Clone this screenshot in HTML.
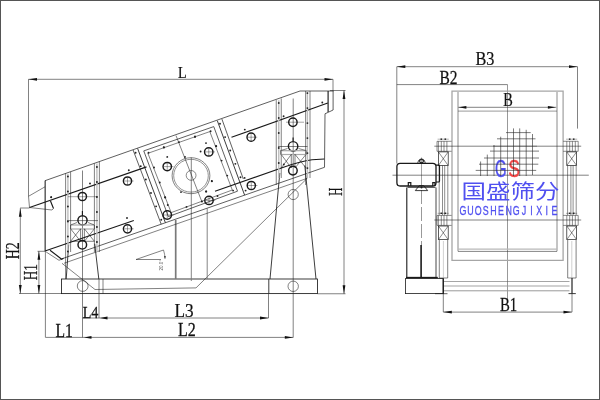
<!DOCTYPE html>
<html><head><meta charset="utf-8"><title>Vibrating screen dimensions</title>
<style>
html,body{margin:0;padding:0;background:#fff;}
#wrap{position:relative;width:600px;height:400px;overflow:hidden;background:#fff;box-sizing:border-box;}
#wrap svg{position:absolute;left:0;top:0;display:block;will-change:transform;}
#frame{position:absolute;left:0;top:0;width:598px;height:398px;border:1px solid #555;pointer-events:none;}
</style></head><body>
<div id="wrap">
<svg width="600" height="400" viewBox="0 0 600 400">
<line x1="28.5" y1="79.3" x2="333" y2="79.3" stroke="#1a1a1a" stroke-width="0.55"/>
<path d="M28.5 79.3 L37 77.9 L37 80.7 Z" fill="#111"/>
<path d="M333 79.3 L324.5 80.7 L324.5 77.9 Z" fill="#111"/>
<line x1="28.5" y1="79.3" x2="28.5" y2="196.3" stroke="#1a1a1a" stroke-width="0.55"/>
<line x1="333" y1="79.3" x2="333" y2="91" stroke="#1a1a1a" stroke-width="0.55"/>
<text transform="translate(178.03 77.8) scale(0.85 1)" font-family="&quot;Liberation Serif&quot;, serif" font-size="16.62" fill="#111" stroke="#111" stroke-width="0.25">L</text>
<line x1="344" y1="90.5" x2="344" y2="293.75" stroke="#1a1a1a" stroke-width="0.55"/>
<path d="M344 90.5 L345.4 99 L342.6 99 Z" fill="#111"/>
<path d="M344 293.75 L342.6 285.25 L345.4 285.25 Z" fill="#111"/>
<line x1="330" y1="90.5" x2="345.5" y2="90.5" stroke="#1a1a1a" stroke-width="0.55"/>
<line x1="317.5" y1="293.75" x2="345.5" y2="293.75" stroke="#1a1a1a" stroke-width="0.55"/>
<text transform="translate(342 195.63) rotate(-90) scale(0.61 1)" font-family="&quot;Liberation Serif&quot;, serif" font-size="18.46" fill="#111" stroke="#111" stroke-width="0.25">H</text>
<line x1="20.3" y1="208.3" x2="20.3" y2="293.5" stroke="#1a1a1a" stroke-width="0.55"/>
<path d="M20.3 208.3 L21.7 216.8 L18.9 216.8 Z" fill="#111"/>
<path d="M20.3 293.5 L18.9 285 L21.7 285 Z" fill="#111"/>
<line x1="20.1" y1="208" x2="29.5" y2="208" stroke="#1a1a1a" stroke-width="0.55"/>
<line x1="38.9" y1="251.2" x2="38.9" y2="293.5" stroke="#1a1a1a" stroke-width="0.55"/>
<path d="M38.9 251.2 L40.3 259.7 L37.5 259.7 Z" fill="#111"/>
<path d="M38.9 293.5 L37.5 285 L40.3 285 Z" fill="#111"/>
<line x1="37.5" y1="251.3" x2="45" y2="251.3" stroke="#1a1a1a" stroke-width="0.55"/>
<line x1="19" y1="293.5" x2="61.5" y2="293.5" stroke="#1a1a1a" stroke-width="0.55"/>
<text transform="translate(18.9 259.36) rotate(-90) scale(0.74 1)" font-family="&quot;Liberation Serif&quot;, serif" font-size="18.85" fill="#111" stroke="#111" stroke-width="0.25">H2</text>
<text transform="translate(37.1 280.34) rotate(-90) scale(0.68 1)" font-family="&quot;Liberation Serif&quot;, serif" font-size="19.38" fill="#111" stroke="#111" stroke-width="0.25">H1</text>
<line x1="82.5" y1="318" x2="268.5" y2="318" stroke="#1a1a1a" stroke-width="0.55"/>
<path d="M100 318 L107.5 316.6 L107.5 319.4 Z" fill="#111"/>
<path d="M268.5 318 L260 319.4 L260 316.6 Z" fill="#111"/>
<line x1="268.5" y1="294" x2="268.5" y2="318" stroke="#1a1a1a" stroke-width="0.55"/>
<line x1="99" y1="279" x2="99" y2="318" stroke="#1a1a1a" stroke-width="0.55"/>
<line x1="45.5" y1="337.4" x2="293.3" y2="337.4" stroke="#1a1a1a" stroke-width="0.55"/>
<path d="M84 337.4 L91.5 336 L91.5 338.8 Z" fill="#111"/>
<path d="M293.3 337.4 L284.8 338.8 L284.8 336 Z" fill="#111"/>
<line x1="45.4" y1="180.5" x2="45.4" y2="337.4" stroke="#1a1a1a" stroke-width="0.55"/>
<line x1="82.5" y1="170.5" x2="82.5" y2="337.4" stroke="#1a1a1a" stroke-width="0.55"/>
<line x1="293.2" y1="98.5" x2="293.2" y2="337.4" stroke="#1a1a1a" stroke-width="0.55"/>
<text transform="translate(82.63 317.5) scale(0.8 1)" font-family="&quot;Liberation Serif&quot;, serif" font-size="17.69" fill="#111" stroke="#111" stroke-width="0.25">L4</text>
<text transform="translate(55.48 336.5) scale(0.84 1)" font-family="&quot;Liberation Serif&quot;, serif" font-size="18.62" fill="#111" stroke="#111" stroke-width="0.25">L1</text>
<text transform="translate(174.43 316.5) scale(0.94 1)" font-family="&quot;Liberation Serif&quot;, serif" font-size="18.31" fill="#111" stroke="#111" stroke-width="0.25">L3</text>
<text transform="translate(177.97 336) scale(0.87 1)" font-family="&quot;Liberation Serif&quot;, serif" font-size="18.46" fill="#111" stroke="#111" stroke-width="0.25">L2</text>
<rect x="61.5" y="279" width="256" height="14.6" rx="0" fill="none" stroke="#1a1a1a" stroke-width="0.85"/>
<line x1="103" y1="279" x2="103" y2="293.6" stroke="#1a1a1a" stroke-width="0.55"/>
<line x1="268.8" y1="279" x2="268.8" y2="293.6" stroke="#1a1a1a" stroke-width="0.85"/>
<circle cx="82.7" cy="286" r="5.4" fill="none" stroke="#1a1a1a" stroke-width="0.55"/>
<circle cx="293.2" cy="286.3" r="5.2" fill="none" stroke="#1a1a1a" stroke-width="0.55"/>
<path d="M62 263.3 L95 289.5 L196 287.9 L307.5 178" fill="none" stroke="#1a1a1a" stroke-width="0.55" stroke-linejoin="miter"/>
<path d="M68.7 244.5 L66.2 279" fill="none" stroke="#1a1a1a" stroke-width="0.85" stroke-linejoin="miter"/>
<path d="M94.7 243.7 L98.8 279" fill="none" stroke="#1a1a1a" stroke-width="0.85" stroke-linejoin="miter"/>
<path d="M279.8 173 L270 279" fill="none" stroke="#1a1a1a" stroke-width="0.85" stroke-linejoin="miter"/>
<path d="M304.8 165.5 L316 279" fill="none" stroke="#1a1a1a" stroke-width="0.85" stroke-linejoin="miter"/>
<line x1="175.7" y1="220" x2="175.7" y2="279" stroke="#7a7a7a" stroke-width="1.7"/>
<line x1="207.2" y1="208.5" x2="207.2" y2="279" stroke="#777" stroke-width="0.9"/>
<line x1="191.3" y1="157.5" x2="191.3" y2="281" stroke="#777" stroke-width="0.9"/>
<path d="M45 251.3 L45 180.69 L300 91 L333.5 91" fill="none" stroke="#1a1a1a" stroke-width="0.7" stroke-linejoin="miter"/>
<line x1="328.1" y1="91" x2="328.1" y2="112" stroke="#1a1a1a" stroke-width="1.15"/>
<path d="M333.1 91 L333.1 110 L325 113.8 L324.5 167.3" fill="none" stroke="#1a1a1a" stroke-width="0.7" stroke-linejoin="miter"/>
<line x1="62" y1="258.75" x2="324.5" y2="167.3" stroke="#1a1a1a" stroke-width="0.7"/>
<line x1="64" y1="263.26" x2="307" y2="178.4" stroke="#1a1a1a" stroke-width="0.55"/>
<path d="M28.5 196.3 L45 186.8" fill="none" stroke="#1a1a1a" stroke-width="0.55" stroke-linejoin="miter"/>
<path d="M28.5 196.3 L29.5 207.5" fill="none" stroke="#1a1a1a" stroke-width="0.55" stroke-linejoin="miter"/>
<path d="M50 250.2 L61.7 259.2 L63.5 258.3" fill="none" stroke="#1a1a1a" stroke-width="1.15" stroke-linejoin="miter"/>
<path d="M46.2 252 L59 260.3 L61.7 259.2" fill="none" stroke="#1a1a1a" stroke-width="0.55" stroke-linejoin="miter"/>
<line x1="29.5" y1="207.5" x2="146.5" y2="166.9" stroke="#1a1a1a" stroke-width="1.15"/>
<line x1="231.5" y1="137.3" x2="327.8" y2="103" stroke="#1a1a1a" stroke-width="1.15"/>
<path d="M45 251 L133.8 220.5" fill="none" stroke="#1a1a1a" stroke-width="1.15"/>
<path d="M215 191.3 L285 166.8 Q301 161.2 312 159.8 L324.4 159" fill="none" stroke="#1a1a1a" stroke-width="1.15"/>
<line x1="50.5" y1="201" x2="53.5" y2="208.5" stroke="#1a1a1a" stroke-width="1.15"/>
<path d="M53.5 208.5 L52 210 L29.5 207.5" fill="none" stroke="#1a1a1a" stroke-width="0.55" stroke-linejoin="miter"/>
<circle cx="51.2" cy="197.2" r="0.9" fill="#222"/>
<line x1="67.9" y1="173.72" x2="67.9" y2="252" stroke="#bdbdbd" stroke-width="1.4"/>
<line x1="65.6" y1="173.52" x2="65.6" y2="279" stroke="#1a1a1a" stroke-width="0.55"/>
<line x1="70.6" y1="171.78" x2="70.6" y2="252" stroke="#1a1a1a" stroke-width="0.55"/>
<circle cx="67.9" cy="176.5" r="0.95" fill="#222"/>
<circle cx="67.9" cy="191.5" r="0.95" fill="#222"/>
<circle cx="67.9" cy="206.5" r="0.95" fill="#222"/>
<circle cx="67.9" cy="221.5" r="0.95" fill="#222"/>
<circle cx="67.9" cy="236.5" r="0.95" fill="#222"/>
<circle cx="67.9" cy="251.5" r="0.95" fill="#222"/>
<line x1="96.9" y1="163.61" x2="96.9" y2="252" stroke="#bdbdbd" stroke-width="1.4"/>
<line x1="94.4" y1="163.48" x2="94.4" y2="252" stroke="#1a1a1a" stroke-width="0.55"/>
<line x1="99.4" y1="161.74" x2="99.4" y2="252" stroke="#1a1a1a" stroke-width="0.55"/>
<circle cx="96.9" cy="167" r="0.95" fill="#222"/>
<circle cx="96.9" cy="182" r="0.95" fill="#222"/>
<circle cx="96.9" cy="197" r="0.95" fill="#222"/>
<circle cx="96.9" cy="212" r="0.95" fill="#222"/>
<circle cx="96.9" cy="227" r="0.95" fill="#222"/>
<circle cx="96.9" cy="242" r="0.95" fill="#222"/>
<line x1="278.75" y1="100.26" x2="278.75" y2="178" stroke="#bdbdbd" stroke-width="1.4"/>
<line x1="276.25" y1="100.13" x2="276.25" y2="185" stroke="#1a1a1a" stroke-width="0.55"/>
<line x1="281.25" y1="98.38" x2="281.25" y2="178" stroke="#1a1a1a" stroke-width="0.55"/>
<circle cx="278.75" cy="103" r="0.95" fill="#222"/>
<circle cx="278.75" cy="118" r="0.95" fill="#222"/>
<circle cx="278.75" cy="133" r="0.95" fill="#222"/>
<circle cx="278.75" cy="148" r="0.95" fill="#222"/>
<circle cx="278.75" cy="163" r="0.95" fill="#222"/>
<line x1="307.4" y1="92" x2="307.4" y2="178" stroke="#bdbdbd" stroke-width="1.4"/>
<line x1="305.6" y1="91" x2="305.6" y2="185" stroke="#1a1a1a" stroke-width="0.55"/>
<line x1="310" y1="91" x2="310" y2="178" stroke="#1a1a1a" stroke-width="0.55"/>
<circle cx="307.4" cy="93.1" r="0.95" fill="#222"/>
<circle cx="307.4" cy="108.1" r="0.95" fill="#222"/>
<circle cx="307.4" cy="123.1" r="0.95" fill="#222"/>
<circle cx="307.4" cy="138.1" r="0.95" fill="#222"/>
<circle cx="307.4" cy="153.1" r="0.95" fill="#222"/>
<circle cx="307.4" cy="168.1" r="0.95" fill="#222"/>
<circle cx="82.4" cy="196.5" r="4.1" fill="none" stroke="#1a1a1a" stroke-width="1.45"/>
<line x1="68" y1="196.7" x2="97.5" y2="196.7" stroke="#1a1a1a" stroke-width="0.4"/>
<circle cx="82.5" cy="220.3" r="4.6" fill="none" stroke="#1a1a1a" stroke-width="1.45"/>
<circle cx="82.3" cy="244.8" r="4.3" fill="none" stroke="#1a1a1a" stroke-width="1.45"/>
<line x1="67" y1="220.6" x2="98" y2="220.6" stroke="#1a1a1a" stroke-width="0.55"/>
<line x1="70.6" y1="225" x2="94.4" y2="225" stroke="#aaa" stroke-width="1.2"/>
<line x1="70.6" y1="229" x2="94.4" y2="229" stroke="#aaa" stroke-width="1.2"/>
<line x1="70.6" y1="225" x2="70.6" y2="229" stroke="#1a1a1a" stroke-width="0.55"/>
<line x1="94.4" y1="225" x2="94.4" y2="229" stroke="#1a1a1a" stroke-width="0.55"/>
<line x1="70.6" y1="228.8" x2="80.6" y2="241.3" stroke="#1a1a1a" stroke-width="0.55"/>
<line x1="80.6" y1="228.8" x2="70.6" y2="241.3" stroke="#1a1a1a" stroke-width="0.55"/>
<line x1="84.4" y1="228.8" x2="94.4" y2="241.3" stroke="#1a1a1a" stroke-width="0.55"/>
<line x1="94.4" y1="228.8" x2="84.4" y2="241.3" stroke="#1a1a1a" stroke-width="0.55"/>
<line x1="80.6" y1="228.8" x2="80.6" y2="241.3" stroke="#1a1a1a" stroke-width="0.55"/>
<line x1="84.4" y1="228.8" x2="84.4" y2="241.3" stroke="#1a1a1a" stroke-width="0.55"/>
<line x1="70.6" y1="241.3" x2="94.4" y2="241.3" stroke="#1a1a1a" stroke-width="0.55"/>
<line x1="77" y1="222.5" x2="70.6" y2="225" stroke="#1a1a1a" stroke-width="0.55"/>
<line x1="88" y1="222.5" x2="94.4" y2="225" stroke="#1a1a1a" stroke-width="0.55"/>
<line x1="82.4" y1="211" x2="82.4" y2="215" stroke="#1a1a1a" stroke-width="1.15"/>
<circle cx="90" cy="183.5" r="0.95" fill="#222"/>
<circle cx="51.2" cy="197.2" r="0.95" fill="#222"/>
<circle cx="292.9" cy="122.2" r="4.2" fill="none" stroke="#1a1a1a" stroke-width="1.45"/>
<line x1="286" y1="122.2" x2="304" y2="122.2" stroke="#1a1a1a" stroke-width="0.4"/>
<circle cx="293.1" cy="146.3" r="4.7" fill="none" stroke="#1a1a1a" stroke-width="1.45"/>
<circle cx="292.9" cy="170.6" r="4.3" fill="none" stroke="#1a1a1a" stroke-width="1.45"/>
<circle cx="293.2" cy="194.5" r="5.1" fill="none" stroke="#1a1a1a" stroke-width="0.55"/>
<line x1="278" y1="146.5" x2="307.5" y2="146.5" stroke="#1a1a1a" stroke-width="0.55"/>
<line x1="280.6" y1="150.7" x2="306.2" y2="150.7" stroke="#aaa" stroke-width="1.2"/>
<line x1="280.6" y1="154.5" x2="306.2" y2="154.5" stroke="#aaa" stroke-width="1.2"/>
<line x1="280.6" y1="150.6" x2="280.6" y2="154.4" stroke="#1a1a1a" stroke-width="0.55"/>
<line x1="306.2" y1="150.6" x2="306.2" y2="154.4" stroke="#1a1a1a" stroke-width="0.55"/>
<line x1="281.2" y1="154.4" x2="291.3" y2="168" stroke="#1a1a1a" stroke-width="0.55"/>
<line x1="291.3" y1="154.4" x2="281.2" y2="168" stroke="#1a1a1a" stroke-width="0.55"/>
<line x1="295" y1="154.4" x2="306" y2="168" stroke="#1a1a1a" stroke-width="0.55"/>
<line x1="306" y1="154.4" x2="295" y2="168" stroke="#1a1a1a" stroke-width="0.55"/>
<line x1="291.3" y1="154.4" x2="291.3" y2="168" stroke="#1a1a1a" stroke-width="0.55"/>
<line x1="295" y1="154.4" x2="295" y2="168" stroke="#1a1a1a" stroke-width="0.55"/>
<line x1="287.5" y1="148.5" x2="280.6" y2="150.6" stroke="#1a1a1a" stroke-width="0.55"/>
<line x1="298.5" y1="148.5" x2="306.2" y2="150.6" stroke="#1a1a1a" stroke-width="0.55"/>
<line x1="293.1" y1="137.5" x2="293.1" y2="141" stroke="#1a1a1a" stroke-width="1.15"/>
<circle cx="283.6" cy="116.3" r="0.95" fill="#222"/>
<circle cx="322.3" cy="102.5" r="0.95" fill="#222"/>
<circle cx="283.8" cy="164.4" r="0.95" fill="#222"/>
<circle cx="127.5" cy="181" r="4.1" fill="none" stroke="#1a1a1a" stroke-width="1.45"/>
<line x1="124.4" y1="181" x2="133.6" y2="181" stroke="#1a1a1a" stroke-width="0.4"/>
<line x1="127.5" y1="177.9" x2="127.5" y2="184.1" stroke="#1a1a1a" stroke-width="0.4"/>
<circle cx="127.5" cy="228.8" r="4.1" fill="none" stroke="#1a1a1a" stroke-width="1.45"/>
<line x1="124.4" y1="228.8" x2="133.6" y2="228.8" stroke="#1a1a1a" stroke-width="0.4"/>
<line x1="127.5" y1="225.7" x2="127.5" y2="231.9" stroke="#1a1a1a" stroke-width="0.4"/>
<circle cx="251.1" cy="137.2" r="4.1" fill="none" stroke="#1a1a1a" stroke-width="1.45"/>
<line x1="248" y1="137.2" x2="257.2" y2="137.2" stroke="#1a1a1a" stroke-width="0.4"/>
<line x1="251.1" y1="134.1" x2="251.1" y2="140.3" stroke="#1a1a1a" stroke-width="0.4"/>
<circle cx="251.3" cy="185.5" r="4.1" fill="none" stroke="#1a1a1a" stroke-width="1.45"/>
<line x1="248.2" y1="185.5" x2="257.4" y2="185.5" stroke="#1a1a1a" stroke-width="0.4"/>
<line x1="251.3" y1="182.4" x2="251.3" y2="188.6" stroke="#1a1a1a" stroke-width="0.4"/>
<circle cx="128.8" cy="170.3" r="0.95" fill="#222"/>
<circle cx="244.8" cy="129.6" r="0.95" fill="#222"/>
<circle cx="244.6" cy="177.9" r="0.95" fill="#222"/>
<circle cx="127" cy="218" r="0.95" fill="#222"/>
<line x1="133.1" y1="150" x2="161.2" y2="224.19" stroke="#1a1a1a" stroke-width="0.7"/>
<line x1="137.6" y1="148.43" x2="165.4" y2="222.73" stroke="#1a1a1a" stroke-width="0.85"/>
<line x1="217.3" y1="120.66" x2="244.6" y2="195.14" stroke="#1a1a1a" stroke-width="0.85"/>
<line x1="221.9" y1="119.06" x2="243.3" y2="179" stroke="#1a1a1a" stroke-width="0.7"/>
<path d="M143.75 150.9 L213.75 126.6 L237.5 191.2 L168.4 216.6 Z" fill="none" stroke="#1a1a1a" stroke-width="0.7" stroke-linejoin="miter"/>
<path d="M147.9 153.3 L209.8 131.6 L232.3 190 L171.2 212.6 Z" fill="none" stroke="#1a1a1a" stroke-width="0.55" stroke-linejoin="miter"/>
<circle cx="135.6" cy="152.75" r="0.95" fill="#222"/>
<circle cx="220" cy="123.75" r="0.95" fill="#222"/>
<circle cx="140.73" cy="166.15" r="0.95" fill="#222"/>
<circle cx="225.12" cy="137.12" r="0.95" fill="#222"/>
<circle cx="145.86" cy="179.55" r="0.95" fill="#222"/>
<circle cx="230.24" cy="150.49" r="0.95" fill="#222"/>
<circle cx="150.99" cy="192.95" r="0.95" fill="#222"/>
<circle cx="235.36" cy="163.86" r="0.95" fill="#222"/>
<circle cx="156.12" cy="206.35" r="0.95" fill="#222"/>
<circle cx="240.48" cy="177.23" r="0.95" fill="#222"/>
<circle cx="161.25" cy="219.75" r="0.95" fill="#222"/>
<circle cx="245.6" cy="190.6" r="0.95" fill="#222"/>
<circle cx="148.5" cy="152.75" r="0.95" fill="#222"/>
<circle cx="154" cy="167.5" r="0.95" fill="#222"/>
<circle cx="159.75" cy="182.5" r="0.95" fill="#222"/>
<circle cx="165" cy="197.25" r="0.95" fill="#222"/>
<circle cx="167.75" cy="205" r="0.95" fill="#222"/>
<circle cx="210.6" cy="131.25" r="0.95" fill="#222"/>
<circle cx="216" cy="146" r="0.95" fill="#222"/>
<circle cx="221.6" cy="160.6" r="0.95" fill="#222"/>
<circle cx="227.25" cy="175.6" r="0.95" fill="#222"/>
<circle cx="233.1" cy="190.6" r="0.95" fill="#222"/>
<circle cx="164" cy="147.5" r="0.95" fill="#222"/>
<circle cx="167.25" cy="156.9" r="0.95" fill="#222"/>
<circle cx="179" cy="142.1" r="0.95" fill="#222"/>
<circle cx="185" cy="156.9" r="0.95" fill="#222"/>
<circle cx="195" cy="136.5" r="0.95" fill="#222"/>
<circle cx="195" cy="136.9" r="0.95" fill="#222"/>
<circle cx="206" cy="143.1" r="0.95" fill="#222"/>
<circle cx="200.6" cy="151.5" r="0.95" fill="#222"/>
<circle cx="181" cy="192.1" r="0.95" fill="#222"/>
<circle cx="186.5" cy="206.9" r="0.95" fill="#222"/>
<circle cx="201.9" cy="201.5" r="0.95" fill="#222"/>
<circle cx="206.25" cy="191.5" r="0.95" fill="#222"/>
<circle cx="211.9" cy="181.25" r="0.95" fill="#222"/>
<circle cx="206" cy="191.5" r="0.95" fill="#222"/>
<circle cx="217.5" cy="196" r="0.95" fill="#222"/>
<circle cx="163.75" cy="147.25" r="0.95" fill="#222"/>
<circle cx="165.25" cy="197.5" r="0.95" fill="#222"/>
<circle cx="216.25" cy="146.2" r="0.95" fill="#222"/>
<circle cx="211.75" cy="181" r="0.95" fill="#222"/>
<ellipse cx="191" cy="175.7" rx="18.9" ry="18" fill="none" stroke="#4a4a4a" stroke-width="0.7"/>
<ellipse cx="191" cy="175.7" rx="17.3" ry="16.4" fill="none" stroke="#4a4a4a" stroke-width="0.6"/>
<circle cx="191.1" cy="175.4" r="4.9" fill="none" stroke="#3a3a3a" stroke-width="0.6"/>
<line x1="176" y1="135.6" x2="202" y2="202" stroke="#1a1a1a" stroke-width="0.55"/>
<circle cx="167.25" cy="166.6" r="4.2" fill="none" stroke="#1a1a1a" stroke-width="1.45"/>
<line x1="164.05" y1="166.6" x2="173.45" y2="166.6" stroke="#1a1a1a" stroke-width="0.4"/>
<line x1="167.25" y1="163.4" x2="167.25" y2="169.8" stroke="#1a1a1a" stroke-width="0.4"/>
<circle cx="208.75" cy="151.9" r="4.2" fill="none" stroke="#1a1a1a" stroke-width="1.45"/>
<line x1="205.55" y1="151.9" x2="214.95" y2="151.9" stroke="#1a1a1a" stroke-width="0.4"/>
<line x1="208.75" y1="148.7" x2="208.75" y2="155.1" stroke="#1a1a1a" stroke-width="0.4"/>
<circle cx="209" cy="200.4" r="4.2" fill="none" stroke="#1a1a1a" stroke-width="1.45"/>
<line x1="205.8" y1="200.4" x2="215.2" y2="200.4" stroke="#1a1a1a" stroke-width="0.4"/>
<line x1="209" y1="197.2" x2="209" y2="203.6" stroke="#1a1a1a" stroke-width="0.4"/>
<circle cx="167.25" cy="215" r="4.2" fill="none" stroke="#1a1a1a" stroke-width="1.45"/>
<line x1="164.05" y1="215" x2="173.45" y2="215" stroke="#1a1a1a" stroke-width="0.4"/>
<line x1="167.25" y1="211.8" x2="167.25" y2="218.2" stroke="#1a1a1a" stroke-width="0.4"/>
<line x1="136" y1="259.5" x2="163.5" y2="250" stroke="#1a1a1a" stroke-width="0.55"/>
<line x1="136" y1="259.5" x2="161" y2="259.5" stroke="#1a1a1a" stroke-width="0.55"/>
<path d="M163.5 250 A29 29 0 0 1 165 258.5" fill="none" stroke="#1a1a1a" stroke-width="0.5"/>
<path d="M165 259.3 L164.2 256 L165.7 256 Z" fill="#222"/>
<text x="163.2" y="270.5" font-family="&quot;Liberation Sans&quot;, sans-serif" font-size="4.6" fill="#555" transform="rotate(-90 163.2 270.5)">20.0°</text>
<line x1="396.8" y1="66.7" x2="577.5" y2="66.7" stroke="#1a1a1a" stroke-width="0.55"/>
<path d="M396.8 66.7 L405.3 65.3 L405.3 68.1 Z" fill="#111"/>
<path d="M577.5 66.7 L569 68.1 L569 65.3 Z" fill="#111"/>
<line x1="396.8" y1="66.7" x2="396.8" y2="163.5" stroke="#1a1a1a" stroke-width="0.55"/>
<line x1="577.5" y1="66.7" x2="577.5" y2="128.6" stroke="#1a1a1a" stroke-width="0.55"/>
<text transform="translate(475.56 65.1) scale(0.9 1)" font-family="&quot;Liberation Serif&quot;, serif" font-size="18" fill="#111" stroke="#111" stroke-width="0.25">B3</text>
<line x1="396.8" y1="84.6" x2="507.5" y2="84.6" stroke="#1a1a1a" stroke-width="0.55"/>
<text transform="translate(439.48 83.5) scale(0.86 1)" font-family="&quot;Liberation Serif&quot;, serif" font-size="18" fill="#111" stroke="#111" stroke-width="0.25">B2</text>
<line x1="458" y1="107.3" x2="556.3" y2="107.3" stroke="#1a1a1a" stroke-width="0.55"/>
<path d="M458.6 107.3 L466.4 105.9 L466.4 108.7 Z" fill="#111"/>
<path d="M555.7 107.3 L547.9 108.7 L547.9 105.9 Z" fill="#111"/>
<text transform="translate(503.22 105.7) scale(0.79 1)" font-family="&quot;Liberation Serif&quot;, serif" font-size="18.15" fill="#111" stroke="#111" stroke-width="0.25">B</text>
<line x1="507.5" y1="84.6" x2="507.5" y2="300" stroke="#333" stroke-width="0.5"/>
<path d="M452 260.3 L452 91.2 L563.1 91.2 L563.1 260.3 Z" fill="none" stroke="#a6a6a6" stroke-width="1.3" stroke-linejoin="miter"/>
<line x1="458" y1="92" x2="458" y2="251.3" stroke="#7d7d7d" stroke-width="0.9"/>
<line x1="557" y1="92" x2="557" y2="251.3" stroke="#7d7d7d" stroke-width="0.9"/>
<line x1="458" y1="111.1" x2="557" y2="111.1" stroke="#444" stroke-width="0.55"/>
<line x1="458" y1="249.2" x2="557" y2="249.2" stroke="#b8b8b8" stroke-width="1.2"/>
<line x1="458" y1="251.4" x2="557" y2="251.4" stroke="#333" stroke-width="0.6"/>
<line x1="434.3" y1="146.2" x2="581.2" y2="146.2" stroke="#1a1a1a" stroke-width="0.55"/>
<line x1="392.5" y1="175.2" x2="588.8" y2="175.2" stroke="#1a1a1a" stroke-width="0.55"/>
<line x1="434.3" y1="220" x2="581.2" y2="220" stroke="#1a1a1a" stroke-width="0.55"/>
<line x1="437.6" y1="139.2" x2="448.8" y2="139.2" stroke="#666" stroke-width="0.5"/>
<rect x="440.5" y="138.5" width="1.6" height="1.3" rx="0" fill="#111" stroke="#1a1a1a" stroke-width="0"/>
<rect x="444.5" y="138.5" width="1.6" height="1.3" rx="0" fill="#111" stroke="#1a1a1a" stroke-width="0"/>
<path d="M451.6 141.3 L437 141.3 L437 151.3 L451.6 151.3" fill="none" stroke="#1a1a1a" stroke-width="0.5" stroke-linejoin="round"/>
<line x1="438.4" y1="141.3" x2="438.4" y2="151.3" stroke="#1a1a1a" stroke-width="0.5"/>
<line x1="441.3" y1="141.3" x2="441.3" y2="151.3" stroke="#1a1a1a" stroke-width="0.5"/>
<line x1="444" y1="141.3" x2="444" y2="151.3" stroke="#1a1a1a" stroke-width="0.5"/>
<line x1="446.9" y1="141.3" x2="446.9" y2="151.3" stroke="#1a1a1a" stroke-width="0.5"/>
<rect x="438.4" y="151.9" width="9.8" height="13.6" rx="0" fill="none" stroke="#1a1a1a" stroke-width="0.7"/>
<line x1="438.4" y1="151.9" x2="448.2" y2="165.5" stroke="#1a1a1a" stroke-width="0.5"/>
<line x1="448.2" y1="151.9" x2="438.4" y2="165.5" stroke="#1a1a1a" stroke-width="0.5"/>
<line x1="437.6" y1="213.3" x2="448.8" y2="213.3" stroke="#666" stroke-width="0.5"/>
<rect x="440.5" y="212.6" width="1.6" height="1.3" rx="0" fill="#111" stroke="#1a1a1a" stroke-width="0"/>
<rect x="444.5" y="212.6" width="1.6" height="1.3" rx="0" fill="#111" stroke="#1a1a1a" stroke-width="0"/>
<path d="M451.6 215.4 L437 215.4 L437 225.4 L451.6 225.4" fill="none" stroke="#1a1a1a" stroke-width="0.5" stroke-linejoin="round"/>
<line x1="438.4" y1="215.4" x2="438.4" y2="225.4" stroke="#1a1a1a" stroke-width="0.5"/>
<line x1="441.3" y1="215.4" x2="441.3" y2="225.4" stroke="#1a1a1a" stroke-width="0.5"/>
<line x1="444" y1="215.4" x2="444" y2="225.4" stroke="#1a1a1a" stroke-width="0.5"/>
<line x1="446.9" y1="215.4" x2="446.9" y2="225.4" stroke="#1a1a1a" stroke-width="0.5"/>
<rect x="438.4" y="226" width="9.8" height="13.6" rx="0" fill="none" stroke="#1a1a1a" stroke-width="0.7"/>
<line x1="438.4" y1="226" x2="448.2" y2="239.6" stroke="#1a1a1a" stroke-width="0.5"/>
<line x1="448.2" y1="226" x2="438.4" y2="239.6" stroke="#1a1a1a" stroke-width="0.5"/>
<line x1="439.2" y1="165.6" x2="439.2" y2="215.2" stroke="#1a1a1a" stroke-width="0.5"/>
<line x1="442.5" y1="165.6" x2="442.5" y2="215.2" stroke="#1a1a1a" stroke-width="0.5"/>
<line x1="444.7" y1="165.6" x2="444.7" y2="215.2" stroke="#1a1a1a" stroke-width="0.5"/>
<line x1="447.8" y1="165.6" x2="447.8" y2="215.2" stroke="#1a1a1a" stroke-width="0.5"/>
<path d="M439.3 240 L439.3 278 L447.7 278 L447.7 240" fill="none" stroke="#1a1a1a" stroke-width="0.55" stroke-linejoin="miter"/>
<line x1="443.4" y1="241" x2="443.4" y2="278" stroke="#8c8c8c" stroke-width="0.4"/>
<line x1="566" y1="139.2" x2="577.2" y2="139.2" stroke="#666" stroke-width="0.5"/>
<rect x="568.9" y="138.5" width="1.6" height="1.3" rx="0" fill="#111" stroke="#1a1a1a" stroke-width="0"/>
<rect x="572.9" y="138.5" width="1.6" height="1.3" rx="0" fill="#111" stroke="#1a1a1a" stroke-width="0"/>
<path d="M563.2 141.3 L578.2 141.3 L578.2 151.3 L563.2 151.3" fill="none" stroke="#1a1a1a" stroke-width="0.5" stroke-linejoin="round"/>
<line x1="566.8" y1="141.3" x2="566.8" y2="151.3" stroke="#1a1a1a" stroke-width="0.5"/>
<line x1="569.7" y1="141.3" x2="569.7" y2="151.3" stroke="#1a1a1a" stroke-width="0.5"/>
<line x1="572.4" y1="141.3" x2="572.4" y2="151.3" stroke="#1a1a1a" stroke-width="0.5"/>
<line x1="575.3" y1="141.3" x2="575.3" y2="151.3" stroke="#1a1a1a" stroke-width="0.5"/>
<rect x="566.8" y="151.9" width="9.8" height="13.6" rx="0" fill="none" stroke="#1a1a1a" stroke-width="0.7"/>
<line x1="566.8" y1="151.9" x2="576.6" y2="165.5" stroke="#1a1a1a" stroke-width="0.5"/>
<line x1="576.6" y1="151.9" x2="566.8" y2="165.5" stroke="#1a1a1a" stroke-width="0.5"/>
<line x1="566" y1="213.3" x2="577.2" y2="213.3" stroke="#666" stroke-width="0.5"/>
<rect x="568.9" y="212.6" width="1.6" height="1.3" rx="0" fill="#111" stroke="#1a1a1a" stroke-width="0"/>
<rect x="572.9" y="212.6" width="1.6" height="1.3" rx="0" fill="#111" stroke="#1a1a1a" stroke-width="0"/>
<path d="M563.2 215.4 L578.2 215.4 L578.2 225.4 L563.2 225.4" fill="none" stroke="#1a1a1a" stroke-width="0.5" stroke-linejoin="round"/>
<line x1="566.8" y1="215.4" x2="566.8" y2="225.4" stroke="#1a1a1a" stroke-width="0.5"/>
<line x1="569.7" y1="215.4" x2="569.7" y2="225.4" stroke="#1a1a1a" stroke-width="0.5"/>
<line x1="572.4" y1="215.4" x2="572.4" y2="225.4" stroke="#1a1a1a" stroke-width="0.5"/>
<line x1="575.3" y1="215.4" x2="575.3" y2="225.4" stroke="#1a1a1a" stroke-width="0.5"/>
<rect x="566.8" y="226" width="9.8" height="13.6" rx="0" fill="none" stroke="#1a1a1a" stroke-width="0.7"/>
<line x1="566.8" y1="226" x2="576.6" y2="239.6" stroke="#1a1a1a" stroke-width="0.5"/>
<line x1="576.6" y1="226" x2="566.8" y2="239.6" stroke="#1a1a1a" stroke-width="0.5"/>
<line x1="567.6" y1="165.6" x2="567.6" y2="215.2" stroke="#1a1a1a" stroke-width="0.5"/>
<line x1="570.9" y1="165.6" x2="570.9" y2="215.2" stroke="#1a1a1a" stroke-width="0.5"/>
<line x1="573.1" y1="165.6" x2="573.1" y2="215.2" stroke="#1a1a1a" stroke-width="0.5"/>
<line x1="576.2" y1="165.6" x2="576.2" y2="215.2" stroke="#1a1a1a" stroke-width="0.5"/>
<path d="M567.7 240 L567.7 278 L576.1 278 L576.1 240" fill="none" stroke="#1a1a1a" stroke-width="0.55" stroke-linejoin="miter"/>
<line x1="571.8" y1="241" x2="571.8" y2="278" stroke="#8c8c8c" stroke-width="0.4"/>
<line x1="572" y1="278" x2="572" y2="293.6" stroke="#1a1a1a" stroke-width="1.15"/>
<line x1="568.5" y1="293.6" x2="575.8" y2="293.6" stroke="#1a1a1a" stroke-width="0.85"/>
<line x1="443.3" y1="281.5" x2="569.5" y2="281.5" stroke="#5a5a5a" stroke-width="0.55"/>
<line x1="443.3" y1="286" x2="569.5" y2="286" stroke="#999" stroke-width="0.9"/>
<line x1="443.3" y1="290.8" x2="569.5" y2="290.8" stroke="#999" stroke-width="1"/>
<line x1="443.2" y1="278.5" x2="443.2" y2="293.7" stroke="#1a1a1a" stroke-width="1.15"/>
<line x1="435" y1="293.7" x2="447.5" y2="293.7" stroke="#1a1a1a" stroke-width="0.7"/>
<line x1="443.3" y1="278.5" x2="443.3" y2="312.1" stroke="#1a1a1a" stroke-width="0.55"/>
<line x1="572" y1="293.6" x2="572" y2="312.1" stroke="#1a1a1a" stroke-width="0.55"/>
<line x1="443.3" y1="312.1" x2="572" y2="312.1" stroke="#1a1a1a" stroke-width="0.55"/>
<path d="M443.3 312.1 L451.8 310.7 L451.8 313.5 Z" fill="#111"/>
<path d="M572 312.1 L563.5 313.5 L563.5 310.7 Z" fill="#111"/>
<text transform="translate(500.01 311.2) scale(0.8 1)" font-family="&quot;Liberation Serif&quot;, serif" font-size="18.46" fill="#111" stroke="#111" stroke-width="0.25">B1</text>
<rect x="396.9" y="163.4" width="39.1" height="22.6" rx="3.2" fill="none" stroke="#1a1a1a" stroke-width="1.3"/>
<path d="M436 165.2 L438.6 165.2 Q439.5 165.2 439.5 166.2 L439.5 181 Q439.5 182 438.6 182 L436 182" fill="none" stroke="#1a1a1a" stroke-width="1.2"/>
<circle cx="421.5" cy="160.9" r="1.9" fill="none" stroke="#1a1a1a" stroke-width="1.15"/>
<path d="M417.6 163.4 A3.9 3.9 0 0 1 425.4 163.4" fill="none" stroke="#1a1a1a" stroke-width="0.8"/>
<line x1="421.5" y1="157.5" x2="421.5" y2="187" stroke="#1a1a1a" stroke-width="0.4"/>
<line x1="421.5" y1="190" x2="421.5" y2="245" stroke="#1a1a1a" stroke-width="0.45" stroke-dasharray="14 3"/>
<path d="M408.3 186 L408.3 182.6 L410.8 182.6 L410.8 186" fill="none" stroke="#1a1a1a" stroke-width="1.2" stroke-linejoin="miter"/>
<path d="M432.8 186 L432.8 182.6 L435 182.6 L435 186" fill="none" stroke="#1a1a1a" stroke-width="1.2" stroke-linejoin="miter"/>
<path d="M415.3 190.6 L419.3 185.6 L423.7 185.6 L427.7 190.6 Z" fill="none" stroke="#1a1a1a" stroke-width="0.85" stroke-linejoin="miter"/>
<circle cx="421.5" cy="187.6" r="1" fill="#222"/>
<line x1="407.5" y1="187.2" x2="435.5" y2="187.2" stroke="#1a1a1a" stroke-width="1"/>
<line x1="406.8" y1="187.5" x2="406.8" y2="277" stroke="#1a1a1a" stroke-width="1.1"/>
<line x1="436" y1="187.5" x2="436" y2="277" stroke="#1a1a1a" stroke-width="0.8"/>
<line x1="421.1" y1="245" x2="421.1" y2="277" stroke="#1a1a1a" stroke-width="1.6"/>
<line x1="406" y1="277.6" x2="437.8" y2="277.6" stroke="#1a1a1a" stroke-width="1.5"/>
<rect x="405.4" y="278.6" width="37.9" height="15" rx="0" fill="none" stroke="#1a1a1a" stroke-width="0.8"/>
<text x="494.9" y="177.3" font-family="&quot;Liberation Sans&quot;, sans-serif" font-size="24" fill="#5050f0" textLength="11.6" lengthAdjust="spacingAndGlyphs" stroke="#5050f0" stroke-width="0.4">G</text>
<text x="508.2" y="177.3" font-family="&quot;Liberation Sans&quot;, sans-serif" font-size="24" fill="#f04545" textLength="11.8" lengthAdjust="spacingAndGlyphs" stroke="#f04545" stroke-width="0.4">S</text>
<line x1="506" y1="132.6" x2="530.7" y2="132.6" stroke="#2a2a2a" stroke-width="0.62"/>
<line x1="497" y1="138.8" x2="535.5" y2="138.8" stroke="#2a2a2a" stroke-width="0.62"/>
<line x1="490" y1="151.1" x2="539" y2="151.1" stroke="#2a2a2a" stroke-width="0.62"/>
<line x1="484" y1="158" x2="539" y2="158" stroke="#2a2a2a" stroke-width="0.62"/>
<line x1="479" y1="164.2" x2="538.3" y2="164.2" stroke="#2a2a2a" stroke-width="0.62"/>
<line x1="475.7" y1="170.4" x2="536.2" y2="170.4" stroke="#2a2a2a" stroke-width="0.62"/>
<line x1="493" y1="146.2" x2="537" y2="146.2" stroke="#2a2a2a" stroke-width="0.4"/>
<line x1="480.6" y1="161.5" x2="480.6" y2="176" stroke="#2a2a2a" stroke-width="0.62"/>
<line x1="487.3" y1="154.6" x2="487.3" y2="176" stroke="#2a2a2a" stroke-width="0.62"/>
<line x1="494" y1="145" x2="494" y2="176" stroke="#2a2a2a" stroke-width="0.62"/>
<line x1="500.7" y1="136.7" x2="500.7" y2="176" stroke="#2a2a2a" stroke-width="0.62"/>
<line x1="513.5" y1="128.4" x2="513.5" y2="176" stroke="#2a2a2a" stroke-width="0.62"/>
<line x1="519.7" y1="128.4" x2="519.7" y2="176" stroke="#2a2a2a" stroke-width="0.62"/>
<line x1="526.2" y1="129.8" x2="526.2" y2="176" stroke="#2a2a2a" stroke-width="0.62"/>
<line x1="532.5" y1="134" x2="532.5" y2="175" stroke="#2a2a2a" stroke-width="0.62"/>
<text x="461.5" y="198.9" font-family="&quot;Liberation Sans&quot;, &quot;Noto Sans CJK SC&quot;, sans-serif" font-size="20.5" fill="#5050f0" textLength="98" lengthAdjust="spacingAndGlyphs">国盛筛分</text>
<text transform="scale(0.74 1)" x="625.54 635.84 646.14 656.43 666.73 677.03 687.32 697.62 707.92 718.22 728.51 738.81 749.11" y="215" text-anchor="middle" font-family="&quot;Liberation Sans&quot;, sans-serif" font-size="12" fill="#5050f0" stroke="#5050f0" stroke-width="0.3">GUOSHENGJIXIE</text>
</svg>
<div id="frame"></div>
</div>
</body></html>
